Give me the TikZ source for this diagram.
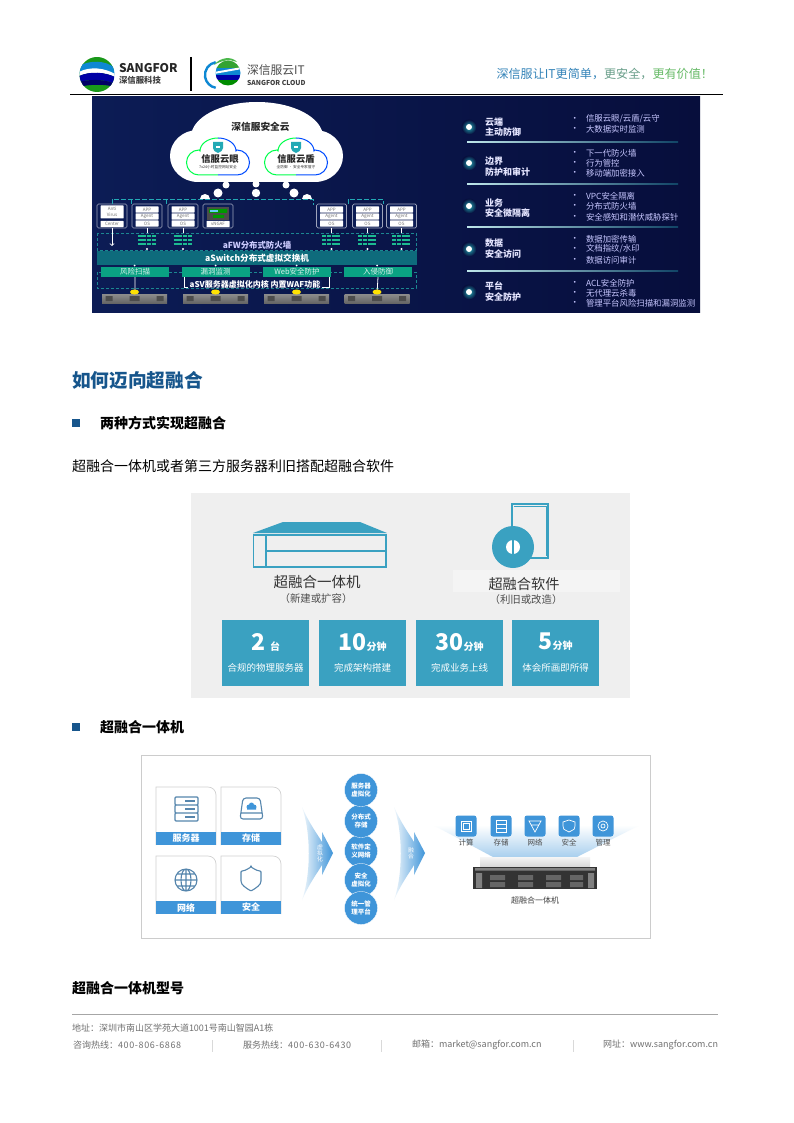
\documentclass[tikz,border=0pt]{standalone}
\usepackage{fontspec}
\setmainfont{Noto Sans CJK SC}
\usetikzlibrary{positioning}
\definecolor{navyA}{HTML}{0C1C55}
\definecolor{navyB}{HTML}{070E3C}
\definecolor{busteal}{HTML}{23A9B5}
\definecolor{barteal}{HTML}{0E6B7C}
\definecolor{boxgreen}{HTML}{0AA283}
\definecolor{tileblue}{HTML}{3AA1C1}
\definecolor{cardblue}{HTML}{3F95D9}
\definecolor{headblue}{HTML}{17568C}
\definecolor{panelgray}{HTML}{EFEFEF}
\definecolor{footgray}{HTML}{707070}
\newcommand{\fs}[1]{\fontsize{#1}{#1}\selectfont}
\tikzset{
    txt/.style={inner sep=0pt,outer sep=0pt},
    linehead/.style={txt,anchor=west,text=white!90!blue,font=\fs{9}\bfseries},
    item/.style={txt,anchor=west,text=white!78!blue,font=\fs{8.4}},
    stackbox/.style={draw=white!60!navyA,line width=.7pt,rounded corners=1.5pt,fill=navyA,minimum width=30pt,minimum height=24pt,inner sep=0pt},
    stackrow/.style={txt,fill=white,text=black!55,font=\fs{4.5},minimum width=23pt,minimum height=6.2pt,rounded corners=.5pt},
    bus/.style={draw=busteal,line width=.9pt,dash pattern=on 5pt off 2pt},
    zone/.style={draw=busteal!80!black,line width=.7pt,dash pattern=on 3pt off 2pt},
    greenbox/.style={txt,fill=boxgreen,text=white!85!boxgreen,font=\fs{7.5},minimum width=68pt,minimum height=10pt},
    tile/.style={txt,fill=tileblue,minimum width=87pt,minimum height=66pt},
    tiletxt/.style={txt,text=white,font=\fs{9.5}},
    cardlabel/.style={txt,fill=cardblue,text=white,font=\fs{9}\bfseries,minimum width=60pt,minimum height=13pt},
    cardedge/.style={draw=black!18,line width=.7pt},
    iconline/.style={draw=cardblue!70!black!80,line width=1.1pt,rounded corners=1pt},
    ball/.style={circle,fill=cardblue,draw=white,line width=.3pt,minimum size=33pt,inner sep=0pt,text=white,font=\fontsize{6.5}{8}\selectfont\bfseries,align=center},
    minicon/.style={txt,fill=cardblue,rounded corners=2.5pt,minimum size=21pt},
    minilabel/.style={txt,text=black!70,font=\fs{7.5}},
    body/.style={txt,anchor=west,text=black,font=\fs{14}},
    bodyhead/.style={txt,anchor=west,text=black,font=\fs{14}\bfseries},
    foot/.style={txt,anchor=west,text=footgray,font=\fs{9}},
    slim/.style={draw=white,line width=.6pt}
}
%% row of the left stack: name, x
\newcommand{\appstack}[2]{
    \node[stackbox] (#1) at (#2,216) {};
    \node[stackrow] (#1top) at (#2,209.5) {APP};
    \node[stackrow] (#1mid) at (#2,216.5) {Agent};
    \node[stackrow] (#1low) at (#2,223.5) {OS};
}
\newcommand{\fwicon}[2]{
    \draw[busteal!80!green,line width=2.2pt,dash pattern=on 4pt off .8pt] (#2-9.5,236) -- (#2+9.5,236) (#2-9.5,240) -- (#2+9.5,240) (#2-9.5,244) -- (#2+9.5,244);
    \draw[slim] (#1.south) -- (#2,233);
    \fill[white] (#2,249) circle (1.2pt);
}
\newcommand{\hostbar}[1]{
    \shade[top color=black!45,bottom color=black!60] (#1-32.5,294) rectangle (#1+32.5,303);
    \fill[black!70] (#1-29,296) rectangle (#1-22,301) (#1+22,296) rectangle (#1+29,301) (#1-5,296) rectangle (#1+5,301);
    \fill[white] (#1,265.5) circle (1pt);
    \fill[yellow!85!orange] (#1,292) ellipse (4.5pt and 2.5pt);
}
%% badge cloud: x of the centre, two colours left and right
\newcommand{\badgepath}[1]{(#1-19,175) -- (#1+19,175) arc (-90:90:12.5pt) -- (#1+18,151) arc (0:180:18pt and 13pt) -- (#1-19,150) arc (90:270:12.5pt) -- cycle}
\newcommand{\badge}[1]{
    \begin{scope}
        \clip (#1-40,130) rectangle (#1,180);
        \draw[fill=white,draw=green!70!cyan,line width=1pt] \badgepath{#1};
    \end{scope}
    \begin{scope}
        \clip (#1,130) rectangle (#1+40,180);
        \draw[fill=white,draw=blue!70!cyan,line width=1pt] \badgepath{#1};
    \end{scope}
    \fill[busteal] (#1-5,142) -- (#1+5,142) -- (#1+5,148) .. controls (#1+4,151) .. (#1,153) .. controls (#1-4,151) .. (#1-5,148) -- cycle;
    \fill[white] (#1-2,146) rectangle (#1+2,148);
}
\newcommand{\glowdot}[2]{
    \shade[inner color=busteal,outer color=navyB] (#1,#2) circle (7.5pt);
    \fill[white] (#1,#2) circle (3pt);
}
\newcommand{\fadearrow}[1]{
    \shade[shift={(#1,0)},left color=cardblue!8,right color=cardblue] (302,807) .. controls (310,825) and (318,835) .. (322,842) -- (322,832) -- (333,853) -- (322,875) -- (322,865) .. controls (318,872) and (310,882) .. (302,900) .. controls (311,875) and (311,832) .. (302,807) -- cycle;
}
%% card frame: x of the left edge, top y
\newcommand{\cardframe}[2]{
    \draw[cardedge] (#1,#2+58) -- (#1,#2) [rounded corners=8pt] -- (#1+60,#2) [sharp corners] -- (#1+60,#2+58);
}
\begin{document}
\begin{tikzpicture}[x=1pt,y=-1pt]
    \useasboundingbox (0,0) rectangle (794,1123);
    \fill[white] (0,0) rectangle (794,1123);

    %% page header
    \begin{scope}
        \clip (97,74.5) circle (17.5pt);
        \fill[green!55!black!90] (79,57) rectangle (115,92);
        \fill[cyan!70!blue] (79,66) .. controls (90,60) and (105,60) .. (115,68) -- (115,76) .. controls (105,68) and (90,68) .. (79,74) -- cycle;
        \fill[white] (79,72) .. controls (90,66) and (105,68) .. (115,74) -- (115,77) .. controls (105,72) and (90,71) .. (79,76) -- cycle;
        \fill[blue!65!black] (79,76) .. controls (90,71) and (105,72) .. (115,77) -- (115,84) .. controls (105,79) and (90,79) .. (79,82) -- cycle;
        \fill[blue!40!black] (79,82) .. controls (90,79) and (105,79) .. (115,84) -- (115,87) .. controls (105,84) and (90,84) .. (79,87) -- cycle;
    \end{scope}
    \node[txt,anchor=west,font=\fs{12}\bfseries,text=black!85] (brand) at (119,68.5) {SANGFOR};
    \node[txt,anchor=west,font=\fs{8.4}\bfseries,text=black!75] (brandcn) at (119,80.5) {深信服科技};
    \draw[black,line width=1.6pt] (191,57) -- (191,91);
    \draw[cyan!70!blue,line width=2.4pt] (215.7,62.2) arc (100:260:13pt);
    \begin{scope}
        \clip (228,73) circle (12.5pt);
        \fill[green!55!black!80] (214,60) rectangle (242,68);
        \fill[cyan!70!blue] (214,68) rectangle (242,75);
        \fill[blue!65!black] (214,75) rectangle (242,80);
        \fill[green!55!black] (214,80) rectangle (242,87);
        \fill[white] (214,72) -- (242,67) -- (242,69) -- (214,74) -- cycle;
    \end{scope}
    \fill[green!60!black!70] (214,65) .. controls (220,57) and (232,56) .. (237,62) .. controls (230,59) and (222,60) .. (214,65) -- cycle;
    \node[txt,anchor=west,font=\fs{11.8},text=black!70] (cloudbrand) at (247,70) {深信服云IT};
    \node[txt,anchor=west,font=\fs{6.8}\bfseries,text=black!75] (cloudbranden) at (247,83) {SANGFOR CLOUD};
    \node[txt,anchor=east,font=\fs{12.1}] (slogan) at (713,74) {\textcolor{blue!40!cyan!65!black!80}{深信服让IT更简单，}\textcolor{cyan!35!green!60!black!75}{更安全，}\textcolor{green!55!black!60}{更有价值！}};
    \draw[black,line width=.9pt] (70,94) -- (723,94);

    %% security picture, dark ground
    \shade[left color=navyA,right color=navyB] (92,97) rectangle (700,312);

    %% cloud
    \fill[white] (198,156) ellipse (28pt and 26pt) (315,156) ellipse (28pt and 26pt) (257,137) ellipse (66pt and 35pt) (197,137) rectangle (316,182);
    \fill[white] (226,185) circle (3.5pt) (256,184) circle (3.5pt) (286,185) circle (3.5pt) (218,193) circle (4.5pt) (256,193) circle (4.2pt) (294,193) circle (4.5pt);
    \fill[white] (200,199) arc (180:0:5pt) -- cycle (302,199) arc (180:0:5pt) -- cycle;
    \badge{218}
    \badge{296}
    \node[txt,font=\fs{9.7}\bfseries,text=black!85] (cloudname) at (260.5,127) {深信服安全云};
    \node[txt,font=\fs{9.3}\bfseries,text=black!85] (eyename) at (220,159) {信服云眼};
    \node[txt,font=\fs{3.7},text=black!80] (eyesub) at (218,167) {7x24小时监控网站安全};
    \node[txt,font=\fs{9.3}\bfseries,text=black!85] (shieldname) at (296,159) {信服云盾};
    \node[txt,font=\fs{3.7},text=black!80] (shieldsub) at (296,167) {全防御 · 安全专家值守};

    %% app stacks
    \node[stackbox] (av) at (112,216) {};
    \node[stackrow,minimum height=13pt,align=center,font=\fontsize{4.5}{6}\selectfont] (avtop) at (112,212) {Anti\\Virus};
    \node[stackrow] (avlow) at (112,224) {Center};
    \appstack{appa}{147}
    \appstack{appb}{183}
    \node[stackbox] (vsoc) at (218,216) {};
    \node[txt,fill=black!70,minimum width=22pt,minimum height=13pt] (vscreen) at (218,213.5) {};
    \fill[green!60!black] (209,209) rectangle (227,213) (213,215) rectangle (224,218);
    \fill[cyan!60!white] (210,210) rectangle (218,212);
    \node[stackrow] (vlabel) at (218,224) {vNGAF};
    \appstack{appc}{331.5}
    \appstack{appd}{367.5}
    \appstack{appe}{401.5}

    %% dashed bus over the stacks
    \coordinate (busfar) at (313,205);
    \coordinate (busa) at (131,204);
    \coordinate (busb) at (166,204);
    \coordinate (busc) at (348,204);
    \coordinate (busd) at (383,204);
    \draw[bus] (av.north) -- (112,199) -- (313,199) -- (busfar);
    \draw[bus] (busa) -- (131,199) (166,199) -- (busb);
    \draw[bus] (busc) -- (348,199) -- (383,199) -- (busd);

    %% firewall and switch
    \draw[zone] (97,233) rectangle (416,250);
    \draw[zone] (97,272) rectangle (416,288);
    \fwicon{appa}{147}
    \fwicon{appb}{183}
    \fwicon{appc}{331.5}
    \fwicon{appd}{367.5}
    \fwicon{appe}{401.5}
    \coordinate (avend) at (112,246);
    \draw[white,line width=.8pt,->] (av.south) -- (avend);
    \node[txt,font=\fs{8.4}\bfseries,text=white!80!blue] (fwname) at (257,245) {aFW分布式防火墙};
    \node[txt,fill=barteal,minimum width=320pt,minimum height=14pt,font=\fs{8.6}\bfseries,text=white] (switchbar) at (257,258) {aSwitch分布式虚拟交换机};

    %% green row and hosts
    \node[greenbox] (scan) at (135,272) {风险扫描};
    \node[greenbox] (leak) at (215.5,272) {漏洞监测};
    \node[greenbox] (web) at (297,272) {Web安全防护};
    \node[greenbox] (ips) at (378,272) {入侵防御};
    \coordinate (bracka) at (184,287);
    \coordinate (brackb) at (329,287);
    \draw[white,line width=.8pt] (184,277) -- (bracka) -- (brackb) -- (329,277);
    \draw[white,line width=.8pt] (scan.south) -- (135,294) (ips.south) -- (377,294);
    \node[txt,fill=navyA,inner xsep=2pt,font=\fs{8}\bfseries,text=white] (svname) at (255,284) {aSV服务器虚拟化内核 内置WAF功能};
    \hostbar{134.5}
    \hostbar{215.5}
    \hostbar{296.5}
    \hostbar{377}

    %% list on the right
    \glowdot{469}{127}
    \glowdot{469}{163}
    \glowdot{469}{206}
    \glowdot{469}{249}
    \glowdot{469}{292}
    \node[linehead] (ta) at (485,122) {云端};
    \node[linehead] (tb) at (485,132) {主动防御};
    \node[linehead] (tc) at (485,161) {边界};
    \node[linehead] (td) at (485,172) {防护和审计};
    \node[linehead] (te) at (485,203) {业务};
    \node[linehead] (tf) at (485,213) {安全微隔离};
    \node[linehead] (tg) at (485,243) {数据};
    \node[linehead] (th) at (485,254) {安全访问};
    \node[linehead] (ti) at (485,286) {平台};
    \node[linehead] (tj) at (485,297) {安全防护};
    \shade[left color=white!70!busteal,right color=busteal!35!navyB] (467,141.7) rectangle (678,142.3);
    \shade[left color=white!70!busteal,right color=busteal!35!navyB] (467,183.7) rectangle (678,184.3);
    \shade[left color=white!70!busteal,right color=busteal!35!navyB] (467,226.7) rectangle (678,227.3);
    \shade[left color=white!70!busteal,right color=busteal!35!navyB] (467,270.7) rectangle (678,271.3);
    \node[item,anchor=east] (ia) at (579,119) {·};
    \node[item] (ib) at (586,119) {信服云眼/云盾/云守};
    \node[item,anchor=east] (ic) at (579,129) {·};
    \node[item] (id) at (586,129) {大数据实时监测};
    \node[item,anchor=east] (ie) at (579,153) {·};
    \node[item] (if) at (586,153) {下一代防火墙};
    \node[item,anchor=east] (ig) at (579,163) {·};
    \node[item] (ih) at (586,163) {行为管控};
    \node[item,anchor=east] (ii) at (579,173) {·};
    \node[item] (ij) at (586,173) {移动端加密接入};
    \node[item,anchor=east] (ik) at (579,196) {·};
    \node[item] (il) at (586,196) {VPC安全隔离};
    \node[item,anchor=east] (im) at (579,206) {·};
    \node[item] (in) at (586,206) {分布式防火墙};
    \node[item,anchor=east] (io) at (579,217) {·};
    \node[item] (ip) at (586,217) {安全感知和潜伏威胁探针};
    \node[item,anchor=east] (iq) at (579,239) {·};
    \node[item] (ir) at (586,239) {数据加密传输};
    \node[item,anchor=east] (is) at (579,249) {·};
    \node[item] (it) at (586,249) {文档指纹/水印};
    \node[item,anchor=east] (iu) at (579,260) {·};
    \node[item] (iv) at (586,260) {数据访问审计};
    \node[item,anchor=east] (iw) at (579,283) {·};
    \node[item] (ix) at (586,283) {ACL安全防护};
    \node[item,anchor=east] (iy) at (579,293) {·};
    \node[item] (iz) at (586,293) {无代理云杀毒};
    \node[item,anchor=east] (iaa) at (579,303) {·};
    \node[item] (iab) at (586,303) {管理平台风险扫描和漏洞监测};

    %% headings and body text
    \node[txt,anchor=west,font=\fs{18.7}\bfseries,text=headblue] (howto) at (72,380) {如何迈向超融合};
    \fill[headblue] (72,419) rectangle (80,427);
    \node[bodyhead] (twoways) at (100,423) {两种方式实现超融合};
    \node[body] (intro) at (72,466) {超融合一体机或者第三方服务器利旧搭配超融合软件};

    %% grey panel
    \fill[panelgray] (191,493) rectangle (630,698);
    \fill[panelgray!70!white] (453,570) rectangle (620,592);
    \fill[tileblue] (253,533) -- (283,522) -- (360,522) -- (387,533) -- cycle;
    \draw[tileblue,line width=1.2pt] (253.5,535) rectangle (386,567) (266,551) -- (386,551) (266,535) -- (266,567);
    \node[txt,font=\fs{14.5},text=black!80] (boxname) at (317,582) {超融合一体机};
    \node[txt,font=\fs{10.4},text=black!70] (boxnote) at (316,599) {（新建或扩容）};
    \draw[tileblue,line width=1.1pt,fill=panelgray] (512,504) rectangle (548,558);
    \draw[tileblue,line width=.8pt] (514,506) -- (546,506) -- (546,556);
    \fill[tileblue] (513,547) circle (21pt);
    \fill[white] (513,547) circle (7pt);
    \fill[tileblue] (512,540) rectangle (514,554);
    \node[txt,font=\fs{14.2},text=black!80] (softname) at (524,584) {超融合软件};
    \node[txt,font=\fs{10.4},text=black!70] (softnote) at (526,600) {（利旧或改造）};
    \node[tile] (tilea) at (265.5,653) {};
    \node[tile] (tileb) at (362.5,653) {};
    \node[tile] (tilec) at (459.5,653) {};
    \node[tile] (tiled) at (555.5,653) {};
    \node[tiletxt] (numa) at (265.5,642) {\fs{23}\bfseries 2\hspace{5pt}\fs{10}台};
    \node[tiletxt] (numb) at (362.5,642) {\fs{23}\bfseries 10\fs{10}分钟};
    \node[tiletxt] (numc) at (459.5,642) {\fs{23}\bfseries 30\fs{10}分钟};
    \node[tiletxt] (numd) at (555.5,642) {\fs{23}\bfseries 5\fs{10}分钟};
    \node[tiletxt] (capa) at (265.5,668) {合规的物理服务器};
    \node[tiletxt] (capb) at (362.5,668) {完成架构搭建};
    \node[tiletxt] (capc) at (459.5,668) {完成业务上线};
    \node[tiletxt] (capd) at (555.5,668) {体会所画即所得};

    \fill[headblue] (72,723) rectangle (80,731);
    \node[bodyhead] (boxhead) at (100,727) {超融合一体机};

    %% framed panel
    \draw[black!20,line width=1pt] (141,755) rectangle (650,938);
    \cardframe{156}{787}
    \cardframe{221}{787}
    \cardframe{156}{856}
    \cardframe{221}{856}
    \node[cardlabel] (serverl) at (186,838.5) {服务器};
    \node[cardlabel] (storel) at (251,838.5) {存储};
    \node[cardlabel] (netl) at (186,907.5) {网络};
    \node[cardlabel] (safel) at (251,907.5) {安全};
    %% card icons
    \draw[iconline] (175,797) rectangle (198,805) (175,805) rectangle (198,813) (175,813) rectangle (198,821);
    \draw[iconline] (185,801) -- (195,801) (185,809) -- (195,809) (185,817) -- (195,817);
    \draw[iconline,rounded corners=3pt] (243,798) -- (260,798) -- (263,819) -- (240,819) -- cycle (241,813) -- (262,813);
    \fill[cardblue] (249,807) circle (2.5pt) (254,807) circle (2.5pt) (247,807) rectangle (256,809.5) (251.5,805) circle (2.5pt);
    \draw[iconline] (186,880) circle (11pt) (186,880) ellipse (5pt and 11pt) (175,880) -- (197,880) (177,874) -- (195,874) (177,886) -- (195,886) (186,869) -- (186,891);
    \draw[iconline] (251,867) .. controls (246,870) and (244,871) .. (241,871) -- (241,880) .. controls (241,885) and (246,888) .. (251,891) .. controls (256,888) and (261,885) .. (261,880) -- (261,871) .. controls (258,871) and (256,870) .. (251,867) -- cycle;

    %% arrows and column of balls
    \fadearrow{0}
    \fadearrow{92}
    \node[txt,text=white,align=center,font=\fs{5.8}] (virt) at (320,853) {虚\\拟\\化};
    \node[txt,text=white,align=center,font=\fs{5.8}] (merge) at (411,853) {融\\合};
    \node[ball] (ballc) at (361,851) {软件定\\义网络};
    \node[ball] (ballb) at (361,821) {分布式\\存储};
    \node[ball] (balld) at (361,880) {安全\\虚拟化};
    \node[ball] (balla) at (361,790) {服务器\\虚拟化};
    \node[ball] (balle) at (361,908) {统一管\\理平台};

    %% machine with its fan
    \shade[top color=white,bottom color=cardblue!45] (433,825) -- (640,825) -- (577,857) -- (493,857) -- cycle;
    \shade[top color=black!4,bottom color=black!15] (480,857) rectangle (590,866);
    \node[minicon] (ica) at (466,826) {};
    \node[minicon] (icb) at (501,826) {};
    \node[minicon] (icc) at (535,826) {};
    \node[minicon] (icd) at (569,826) {};
    \node[minicon] (ice) at (603,826) {};
    \draw[white,line width=.7pt] (461,821) rectangle (471,831) (463,823) rectangle (469,829);
    \draw[white,line width=.7pt] (496,820) rectangle (506,832) (496,824) -- (506,824) (496,828) -- (506,828);
    \draw[white,line width=.7pt] (529,821) -- (541,821) -- (535,832) -- cycle (531,825) -- (539,825);
    \draw[white,line width=.7pt] (569,820) -- (575,822) -- (575,826) .. controls (575,829) .. (569,832) .. controls (563,829) .. (563,826) -- (563,822) -- cycle;
    \draw[white,line width=.7pt] (603,826) circle (5pt) (603,826) circle (2pt);
    \node[minilabel] (lba) at (466,843) {计算};
    \node[minilabel] (lbb) at (501,843) {存储};
    \node[minilabel] (lbc) at (535,843) {网络};
    \node[minilabel] (lbd) at (569,843) {安全};
    \node[minilabel] (lbe) at (603,843) {管理};
    \fill[black!80] (473,867) rectangle (597,889);
    \fill[black!50] (475,868) rectangle (595,870.5) (476,873) rectangle (482,888) (588,873) rectangle (594,888);
    \fill[black!60] (490,875) rectangle (505,880) (490,882) rectangle (505,887) (518,875) rectangle (533,880) (518,882) rectangle (533,887) (546,875) rectangle (561,880) (546,882) rectangle (561,887) (570,875) rectangle (583,880) (570,882) rectangle (583,887);
    \node[txt,font=\fs{8},text=black!75] (boxcap) at (535,900) {超融合一体机};

    \node[bodyhead] (modelhead) at (72,988) {超融合一体机型号};

    %% page footer
    \draw[black!35,line width=.7pt] (72,1014) -- (718,1014);
    \node[foot] (addr) at (72,1028) {地址：深圳市南山区学苑大道1001号南山智园A1栋};
    \node[foot] (tela) at (73,1045) {咨询热线：{\addfontfeature{LetterSpace=7}400-806-6868}};
    \node[foot] (telb) at (243,1045) {服务热线：{\addfontfeature{LetterSpace=7}400-630-6430}};
    \node[foot] (mail) at (412,1045) {邮箱：market@sangfor.com.cn};
    \node[foot,anchor=east] (site) at (718,1045) {网址：www.sangfor.com.cn};
    \draw[black!15,line width=.6pt] (212,1040) -- (212,1052) (381,1040) -- (381,1052) (573,1040) -- (573,1052);
\end{tikzpicture}
\end{document}
